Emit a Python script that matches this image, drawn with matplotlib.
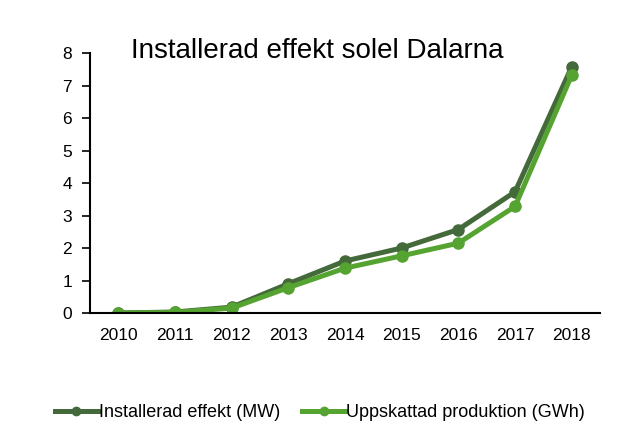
import matplotlib
matplotlib.use("Agg")
import matplotlib.pyplot as plt
import numpy as np

plt.rcParams['font.family'] = ['Liberation Sans', 'DejaVu Sans']

# data
years = ['2010', '2011', '2012', '2013', '2014', '2015', '2016', '2017', '2018']
effekt_mw = [0.0, 0.03, 0.18, 0.90, 1.60, 2.00, 2.57, 3.73, 7.58]
produktion_gwh = [0.0, 0.02, 0.15, 0.78, 1.38, 1.76, 2.15, 3.28, 7.32]
y_ticks = [0, 1, 2, 3, 4, 5, 6, 7, 8]

fig = plt.figure(figsize=(6.27, 4.32), dpi=100)
ax = fig.add_axes([0.1435, 0.2755, 0.8135, 0.6015])

X = np.arange(len(years))
ax.plot(X, effekt_mw, color='#44693a', linewidth=3.6, marker='o', markersize=8,
        label='Installerad effekt (MW)')
ax.plot(X, produktion_gwh, color='#55a331', linewidth=3.6, marker='o', markersize=8,
        label='Uppskattad produktion (GWh)')

ax.set_xlim(-0.5, len(years) - 0.5)
ax.set_ylim(0, 8)
ax.set_xticks(X)
ax.set_xticklabels(years, fontsize=12.5)
ax.set_yticks(y_ticks)
ax.set_yticklabels([str(v) for v in y_ticks], fontsize=12.5)
ax.tick_params(axis='x', length=0, pad=11)
ax.tick_params(axis='y', length=6, width=1.2, direction='out', pad=7)

for side in ['top', 'right']:
    ax.spines[side].set_visible(False)
ax.spines['left'].set_linewidth(1.5)
ax.spines['bottom'].set_linewidth(1.5)

# title sits inside the plot area
ax.text(0.446, 1.008, 'Installerad effekt solel Dalarna', transform=ax.transAxes,
        ha='center', va='center', fontsize=20)

fig.legend(loc='center', bbox_to_anchor=(0.51, 0.044), ncol=2, frameon=False,
           fontsize=13, handlelength=2.4, handletextpad=0.05, columnspacing=1.2,
           markerscale=0.75)

fig.savefig('out.png', dpi=100)
